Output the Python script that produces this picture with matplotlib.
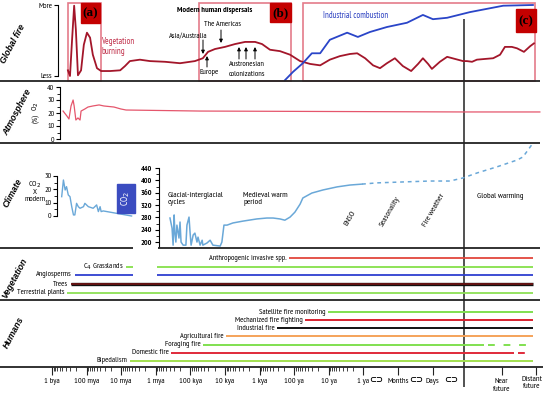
import math
import matplotlib.pyplot as plt
from matplotlib.patches import Rectangle

plt.rcParams['font.family'] = ['Liberation Sans Narrow', 'Arial Narrow', 'PT Sans Narrow',
                               'Archivo Narrow', 'Roboto Condensed', 'Liberation Sans',
                               'DejaVu Sans']

# timeline: 0 = 1 bya, one unit per decade, 9 = 1 ya, 10 = months, 11 = days, 13/14 = future
tick_pos = [0, 1, 2, 3, 4, 5, 6, 7, 8, 9, 10, 11, 13, 14]
tick_labels = ['1 bya', '100 mya', '10 mya', '1 mya', '100 kya', '10 kya', '1 kya',
               '100 ya', '10 ya', '1 ya', 'Months', 'Days', 'Near\nfuture', 'Distant\nfuture']
icon_pos = [9.38, 10.52, 11.55]
present = 11.9

# global fire (0 = less, 1 = more)
fire_x = [0.46, 0.52, 0.58, 0.64, 0.69, 0.75, 0.84, 0.92, 1.01, 1.10, 1.18, 1.30, 1.42, 1.68,
          1.97, 2.11, 2.25, 2.54, 2.83, 3.27, 3.70, 4.13, 4.36, 4.51, 4.71, 5.00, 5.29, 5.58,
          5.87, 6.07, 6.30, 6.59, 6.88, 7.17, 7.46, 7.75, 8.03, 8.32, 8.61, 8.82, 9.05, 9.28,
          9.48, 9.68, 9.91, 10.14, 10.38, 10.58, 10.72, 10.87, 10.98, 11.21, 11.42, 11.65,
          11.88, 11.99, 12.14, 12.28, 12.51, 12.75, 12.95, 13.09, 13.29, 13.44, 13.64, 13.82, 13.93]
fire_y = [0.08, 0.00, 0.51, 0.99, 0.65, 0.01, 0.08, 0.44, 0.61, 0.54, 0.30, 0.11, 0.07, 0.07,
          0.08, 0.14, 0.21, 0.23, 0.21, 0.20, 0.18, 0.21, 0.25, 0.34, 0.38, 0.41, 0.45, 0.48,
          0.48, 0.45, 0.37, 0.35, 0.30, 0.21, 0.17, 0.15, 0.23, 0.28, 0.31, 0.32, 0.25, 0.15,
          0.11, 0.18, 0.25, 0.14, 0.07, 0.17, 0.25, 0.17, 0.10, 0.20, 0.27, 0.24,
          0.21, 0.21, 0.20, 0.23, 0.24, 0.25, 0.30, 0.41, 0.41, 0.39, 0.34, 0.42, 0.46]
ind_x = [6.73, 6.97, 7.25, 7.51, 7.75, 8.03, 8.53, 8.84, 9.19, 9.68, 10.26, 10.72, 11.01,
         11.42, 12.08, 13.04, 13.90]
ind_y = [-0.06, 0.06, 0.18, 0.32, 0.32, 0.51, 0.61, 0.55, 0.62, 0.69, 0.75, 0.86, 0.80,
         0.82, 0.90, 0.99, 1.00]
period_start = [0.46, 4.24, 7.25]
period_end = [1.42, 6.91, 13.96]
period_names = ['(a)', '(b)', '(c)']

# atmospheric O2 (%)
o2_x = [0.32, 0.43, 0.49, 0.55, 0.61, 0.64, 0.69, 0.75, 0.81, 0.84, 0.95, 1.04, 1.18, 1.36,
        1.50, 1.79, 1.99, 2.14, 4.28, 11.9, 14.1]
o2_y = [21.5, 17.7, 15.4, 25.4, 30.0, 25.4, 14.6, 16.2, 14.6, 21.5, 23.1, 24.6, 25.4, 26.2,
        25.4, 24.6, 23.1, 22.3, 21.5, 20.8, 20.8]

# CO2 x modern, deep time
co2_deep_x = [0.28, 0.33, 0.38, 0.42, 0.47, 0.52, 0.57, 0.62, 0.66, 0.71, 0.76, 0.81, 0.91,
              0.95, 1.05, 1.19, 1.29, 1.34, 1.39, 1.42, 1.48, 2.30]
co2_deep_y = [14.5, 27, 19.5, 22, 15.8, 14.5, 7, 0.8, 0.8, 9.5, 7, 5.8, 7,
              9.5, 7, 5.8, 8.3, 3.3, 7, 3.3, 3.8, 0]

# CO2 ppm, recent
co2_x = [3.41, 3.47, 3.50, 3.53, 3.55, 3.58, 3.61, 3.67, 3.70, 3.73, 3.79, 3.87, 3.90, 3.96,
         3.99, 4.02, 4.08, 4.13, 4.19, 4.22, 4.28, 4.34, 4.36, 4.48, 4.57, 4.65, 4.86, 4.91,
         4.97, 5.06, 5.23, 5.52, 5.92, 6.21, 6.39, 6.59, 6.73, 6.88, 7.02, 7.17, 7.25, 7.51,
         7.83, 8.24, 8.61, 8.96]
co2_y = [278, 245, 190, 288, 232, 200, 255, 213, 265, 200, 190, 190, 255, 281,
         232, 190, 223, 229, 200, 216, 190, 206, 190, 197, 206, 190, 187, 200,
         255, 255, 262, 268, 275, 278, 278, 275, 271, 281, 297, 323, 343, 359,
         369, 379, 385, 388]
proj_x = [8.96, 9.39, 10.14, 10.92, 11.50, 11.88, 12.28, 12.86, 13.44, 13.61, 13.76, 13.90]
proj_y = [388, 392, 395, 398, 398, 408, 424, 444, 466, 476, 499, 521]

# vegetation
veg_labels = ['Anthropogenic invasive spp.', 'C$_4$ Grasslands', 'Angiosperms', 'Trees',
              'Terrestrial plants']
veg_segments = [[(6.85, 13.9)], [(2.14, 2.34), (3.03, 13.9)], [(0.66, 2.34), (3.03, 13.9)],
                [(0.55, 13.9)], [(0.43, 13.9)]]
veg_colors = ['#e2473d', '#86e04a', '#2f3fd0', '#6b1414', '#8ee055']
veg_rows = [258, 266.5, 274.5, 284, 293]

# humans
hum_labels = ['Satellite fire monitoring', 'Mechanized fire fighting', 'Industrial fire',
              'Agricultural fire', 'Foraging fire', 'Domestic fire', 'Bipedalism']
hum_start = [7.98, 7.31, 6.50, 5.03, 4.36, 3.44, 2.25]
hum_solid_end = [13.9, 13.9, 13.9, 13.9, 12.49, 13.35, 13.9]
hum_end = 13.9
hum_colors = ['#80e050', '#d8202e', '#111111', '#f5a35a', '#80e050', '#e02a3a', '#a2e050']
hum_rows = [312, 320, 328, 336, 344.5, 353, 361]

W, H = 543, 396
XL = (-52 / 34.6, (W - 52) / 34.6)
LINE = '#222222'
FS = 5.8

fig = plt.figure(figsize=(W / 100, H / 100), dpi=100)


def band(top, bottom):
    ax = fig.add_axes([0, 1 - bottom / H, 1, (bottom - top) / H])
    ax.set_xlim(XL)
    ax.patch.set_visible(False)
    for s in ['top', 'right', 'bottom']:
        ax.spines[s].set_visible(False)
    ax.set_xticks([])
    return ax


# base timeline axis
ax = fig.add_axes([0, 0, 1, 1])
ax.set_xlim(XL)
ax.set_ylim(H, 0)
ax.patch.set_visible(False)
for s in ['top', 'right', 'left']:
    ax.spines[s].set_visible(False)
ax.spines['bottom'].set_position(('data', 367))
ax.spines['bottom'].set_linewidth(1.3)
ax.spines['bottom'].set_color(LINE)
ax.set_yticks([])
ax.set_xticks(tick_pos)
# last label is drawn by hand a little to the left so it stays inside the figure
ax.set_xticklabels(tick_labels[:-1] + [''], fontsize=6, linespacing=1.1)
ax.text(tick_pos[-1] - 0.14, 376, tick_labels[-1], fontsize=6, linespacing=1.1,
        ha='center', va='top')
minor = [i + 1 - math.log10(k) for i in range(9) for k in range(2, 10)]
ax.set_xticks(minor, minor=True)
ax.tick_params(axis='x', which='major', length=6, width=0.8, pad=2, color=LINE)
ax.tick_params(axis='x', which='minor', length=3, width=0.6, color=LINE)
for xp in icon_pos:
    ax.text(xp, 380, '⊂⊃', fontsize=6, fontweight='bold', ha='center', va='center',
            family=['DejaVu Sans'])
ax.vlines(present, 19, 387, color='#333333', lw=1.2)

for lab, segs, c, y in zip(veg_labels, veg_segments, veg_colors, veg_rows):
    for s, e in segs:
        if lab == 'Trees':
            ax.hlines(y, s, e, color='#111111', lw=2.4)
        ax.hlines(y, s, e, color=c, lw=1.3)
    ax.text(segs[0][0] - 0.08, y, lab, fontsize=FS, ha='right', va='center')

for lab, s, se, c, y in zip(hum_labels, hum_start, hum_solid_end, hum_colors, hum_rows):
    ax.hlines(y, s, se, color=c, lw=1.4)
    if se < hum_end:
        ax.plot([se + 0.12, hum_end], [y, y], color=c, lw=1.4, dashes=(3.5, 4.5))
    ax.text(s - 0.07, y, lab, fontsize=FS, ha='right', va='center')

for s, e in zip(period_start, period_end):
    ax.add_patch(Rectangle((s, 3), e - s, 78, fill=False, edgecolor='#e47b8a', lw=1.2))

# global fire
axf = band(5, 76)
axf.set_ylim(0, 1)
axf.spines['left'].set_position(('data', 0.17))
axf.spines['left'].set_bounds(0, 1)
axf.set_yticks([0, 1])
axf.set_yticklabels(['Less', 'More'], fontsize=FS)
axf.tick_params(axis='y', length=3, width=0.8, pad=1)
axf.plot(fire_x, fire_y, color='#a3162a', lw=1.3, clip_on=False)
axf.plot(ind_x, ind_y, color='#2a45c8', lw=1.3, clip_on=False)

# O2
axo = band(87, 139)
axo.set_ylim(0, 40)
axo.spines['left'].set_position(('data', 0.23))
axo.set_yticks([0, 10, 20, 30, 40])
axo.set_yticks([5, 15, 25, 35], minor=True)
axo.tick_params(axis='y', which='major', length=3, width=0.8, pad=1, labelsize=FS)
axo.tick_params(axis='y', which='minor', length=2, width=0.6)
axo.plot(o2_x, o2_y, color='#e5566c', lw=0.9, clip_on=False)

# CO2 x modern
axc1 = band(176, 216)
axc1.set_ylim(0, 30)
axc1.spines['left'].set_position(('data', 0.145))
axc1.set_yticks([0, 10, 20, 30])
axc1.set_yticks([5, 15, 25], minor=True)
axc1.tick_params(axis='y', which='major', length=3, width=0.8, pad=1, labelsize=FS)
axc1.tick_params(axis='y', which='minor', length=2, width=0.6)
axc1.plot(co2_deep_x, co2_deep_y, color='#6aa8d8', lw=1.0, clip_on=False)

# CO2 ppm
axc2 = band(165, 247)
axc2.set_ylim(184, 450)
axc2.spines['left'].set_position(('data', 3.09))
axc2.spines['left'].set_bounds(184, 440)
axc2.set_yticks(range(200, 441, 40))
axc2.set_yticks(range(220, 440, 40), minor=True)
axc2.tick_params(axis='y', which='major', length=3, width=0.8, pad=2, labelsize=FS)
axc2.tick_params(axis='y', which='minor', length=2, width=0.6)
for t in axc2.get_yticklabels():
    t.set_fontweight('bold')
axc2.plot(co2_x, co2_y, color='#6aa8d8', lw=1.1)
axc2.plot(proj_x, proj_y, color='#6aa8d8', lw=1.1, dashes=(2.5, 2.5), clip_on=False)

# pixel overlay: separators, labels
axp = fig.add_axes([0, 0, 1, 1])
axp.set_xlim(0, W)
axp.set_ylim(H, 0)
axp.axis('off')
axp.hlines([81, 143, 300], 0, 540, color=LINE, lw=1.3)
axp.hlines(247.5, 0, 133, color=LINE, lw=1.3)
axp.hlines(247.5, 158, 540, color=LINE, lw=1.3)

for name, (x0, y0, x1, y1) in zip(period_names, [(81, 3, 100, 23), (270, 3, 291, 22),
                                                   (516, 9, 536, 32)]):
    axp.add_patch(Rectangle((x0, y0), x1 - x0, y1 - y0, color='#c40000'))
    axp.text((x0 + x1) / 2, (y0 + y1) / 2 + 0.5, name, fontsize=9.5, fontweight='bold',
             family=['Liberation Serif', 'DejaVu Serif'], ha='center', va='center')

side = dict(fontsize=6.3, fontweight='bold', style='italic', rotation=62,
            ha='center', va='center', family=['Liberation Sans', 'DejaVu Sans'])
axp.text(13, 44, 'Global fire', **side)
axp.text(17, 112, 'Atmosphere', **side)
axp.text(13, 193, 'Climate', **side)
axp.text(15, 278, 'Vegetation', **side)
axp.text(14, 333, 'Humans', **side)

axp.text(101, 41, 'Vegetation', color='#c0304a', fontsize=6.3, va='center')
axp.text(101, 52, 'burning', color='#c0304a', fontsize=6.3, va='center')
axp.text(177, 10, 'Modern human dispersals', fontsize=5.9, fontweight='bold', va='center')
axp.text(222, 25, 'The Americas', fontsize=FS, ha='center', va='center')
axp.text(188, 36, 'Asia/Australia', fontsize=FS, ha='center', va='center')
axp.text(209, 73, 'Europe', fontsize=FS, ha='center', va='center')
axp.text(247, 64, 'Austronesian', fontsize=FS, ha='center', va='center')
axp.text(247, 75, 'colonizations', fontsize=FS, ha='center', va='center')
axp.text(323, 15, 'Industrial combustion', color='#2a3fc0', fontsize=6.2, va='center')
arrow = dict(arrowstyle='-|>', lw=0.7, color='k', mutation_scale=5, shrinkA=0, shrinkB=0)
for (x0, y0, y1) in [(203, 40, 54), (221, 30, 43), (207, 67, 56),
                     (239, 59, 47), (246, 59, 47), (255, 59, 47)]:
    axp.annotate('', xy=(x0, y1), xytext=(x0, y0), arrowprops=arrow)

axp.text(36, 106, 'O$_2$', rotation=90, fontsize=FS, ha='center', va='center')
axp.text(36, 119, '(%)', rotation=90, fontsize=FS, ha='center', va='center')
axp.text(35, 191, 'CO$_2$\nX\nmodern', fontsize=FS, ha='center', va='center', linespacing=0.95)
axp.add_patch(Rectangle((117, 184), 18, 29, color='#3b4cc0'))
axp.text(126, 198.5, 'CO$_2$', rotation=90, color='white', fontsize=6.8, ha='center',
         va='center')

axp.text(168, 199, 'Glacial-interglacial\ncycles', fontsize=6.1, va='center', linespacing=1.0)
axp.text(243, 199, 'Medieval warm\nperiod', fontsize=6.1, va='center', linespacing=1.0)
axp.text(350, 218, 'ENSO', rotation=60, fontsize=6.1, ha='center', va='center')
axp.text(390, 212, 'Seasonality', rotation=60, fontsize=6.1, ha='center', va='center')
axp.text(434, 210, 'Fire weather', rotation=60, fontsize=6.1, ha='center', va='center')
axp.text(500, 196, 'Global warming', fontsize=6.1, ha='center', va='center')

fig.savefig('out.png', dpi=100)
